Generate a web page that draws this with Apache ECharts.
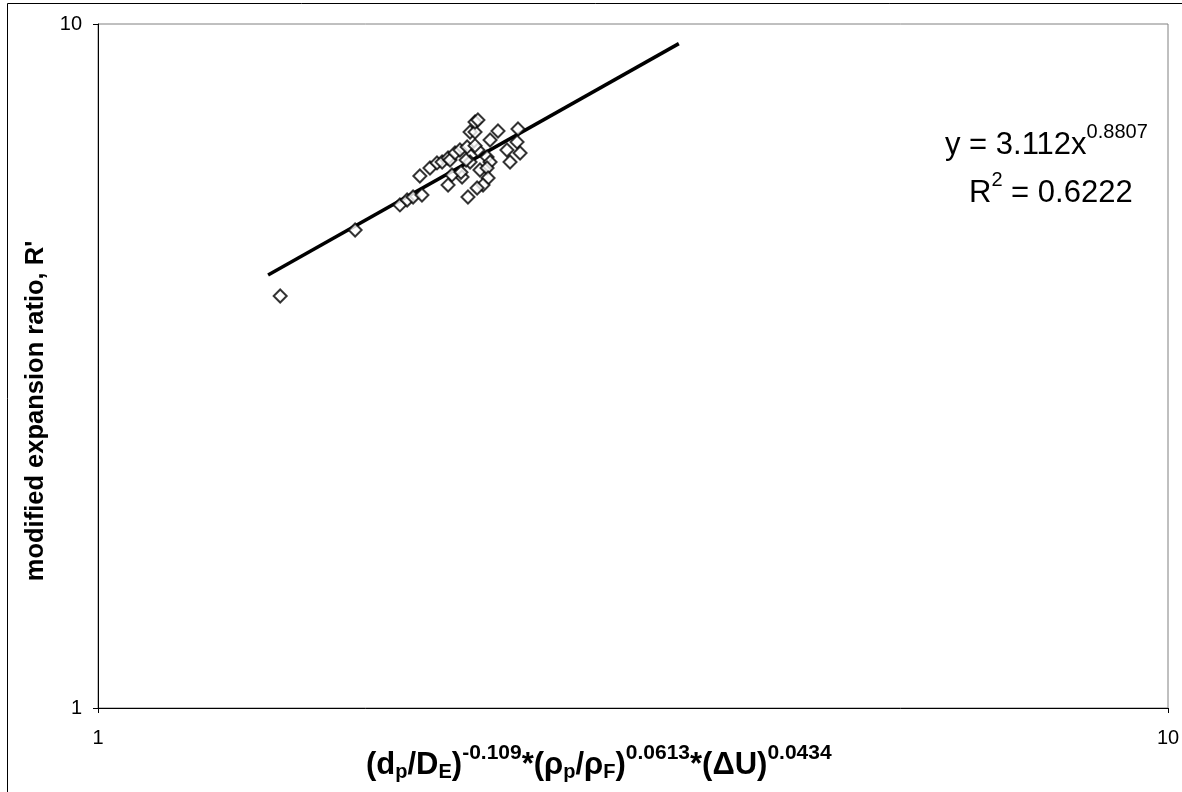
<!DOCTYPE html>
<html>
<head>
<meta charset="utf-8">
<script src="https://cdn.jsdelivr.net/npm/echarts@6/dist/echarts.min.js"></script>
<style>
  html, body { margin: 0; padding: 0; background: #fff; }
  #chart { width: 1182px; height: 792px; }
</style>
</head>
<body>
<div id="chart"></div>
<script>
// measured points: x = modified group, y = modified expansion ratio R'
var xVals = [1.480, 1.739, 1.915, 1.945, 1.970, 2.008, 1.999, 2.043, 2.074, 2.097,
             2.124, 2.133, 2.156, 2.179, 2.213, 2.227, 2.251, 2.251, 2.265, 2.365,
             2.469, 2.325, 2.464, 2.411, 2.480, 2.427, 2.265, 2.310, 2.325, 2.227,
             2.275, 2.310, 2.189, 2.142, 2.124, 2.315, 2.290, 2.261, 2.217, 2.184,
             2.208, 2.251];
var yVals = [4.003, 4.998, 5.438, 5.530, 5.586, 5.623, 5.995, 6.159, 6.264, 6.284,
             6.370, 6.327, 6.478, 6.544, 6.611, 6.952, 6.952, 7.190, 7.238, 6.976,
             7.023, 6.768, 6.723, 6.544, 6.478, 6.284, 6.544, 6.392, 6.284, 6.284,
             6.117, 6.159, 5.975, 6.016, 5.815, 5.955, 5.815, 5.757, 5.586, 6.070,
             6.327, 6.640];

// power trend line end points (y = 3.112x^0.8807)
var trendX = [1.442, 3.49];
var trendY = [4.295, 9.36];

var xTicks = [1, 10];
var yTicks = [1, 10];

var pts = xVals.map(function (x, i) { return [x, yVals[i]]; });
var trend = trendX.map(function (x, i) { return [x, trendY[i]]; });

var font = 'Liberation Sans, Arial, sans-serif';
var myChart = echarts.init(document.getElementById('chart'));

var option = {
    backgroundColor: '#FFF',
    animation: false,
    grid: {
        left: 98, top: 24, right: 14, bottom: 84,
        outerBoundsMode: 'none',
        containLabel: false,
        show: true, borderColor: '#808080', borderWidth: 1
    },
    xAxis: {
        type: 'log', logBase: 10, min: 1, max: 10,
        axisLine: { lineStyle: { color: '#000', width: 1 } },
        axisTick: { show: true, length: 5, inside: false, lineStyle: { color: '#000' } },
        minorTick: { show: false },
        splitLine: { show: false },
        axisLabel: {
            color: '#000', fontFamily: font, fontSize: 20, margin: 20,
            formatter: function (v) { return xTicks.indexOf(Math.round(v)) >= 0 ? String(Math.round(v)) : ''; }
        }
    },
    yAxis: {
        type: 'log', logBase: 10, min: 1, max: 10,
        axisLine: { lineStyle: { color: '#000', width: 1 } },
        axisTick: { show: true, length: 5, lineStyle: { color: '#000' } },
        minorTick: { show: false },
        splitLine: { show: false },
        axisLabel: {
            color: '#000', fontFamily: font, fontSize: 20, margin: 16,
            formatter: function (v) { return yTicks.indexOf(Math.round(v)) >= 0 ? String(Math.round(v)) : ''; }
        }
    },
    graphic: [
        {
            type: 'rect', silent: true,
            shape: { x: 7.5, y: 3.5, width: 1200, height: 800 },
            style: { fill: 'none', stroke: '#000', lineWidth: 1 }
        },
        {
            // x axis title
            type: 'text', left: 366, top: 743,
            style: {
                text: '(d{sub|p}/D{sub|E}){sup|-0.109}*(ρ{sub|p}/ρ{sub|F}){sup|0.0613}*(ΔU){sup|0.0434}',
                fontFamily: font, fontSize: 31, fontWeight: 'bold', fill: '#000', lineHeight: 44,
                rich: {
                    sub: { fontFamily: font, fontSize: 20, fontWeight: 'bold', fill: '#000', verticalAlign: 'bottom', lineHeight: 44, padding: [0, 0, 5, 0] },
                    sup: { fontFamily: font, fontSize: 21, fontWeight: 'bold', fill: '#000', verticalAlign: 'top', lineHeight: 44 }
                }
            }
        },
        {
            // y axis title
            type: 'text', x: 36, y: 411, rotation: Math.PI / 2,
            style: {
                text: "modified expansion ratio, R'",
                fontFamily: font, fontSize: 25.5, fontWeight: 'bold', fill: '#000',
                align: 'center', verticalAlign: 'middle'
            }
        },
        {
            type: 'text', left: 945, top: 122,
            style: {
                text: 'y = 3.112x{sup|0.8807}',
                fontFamily: font, fontSize: 31, fill: '#000', lineHeight: 46,
                rich: { sup: { fontFamily: font, fontSize: 20, fill: '#000', verticalAlign: 'top', lineHeight: 46 } }
            }
        },
        {
            type: 'text', left: 969, top: 170,
            style: {
                text: 'R{sup|2} = 0.6222',
                fontFamily: font, fontSize: 31, fill: '#000', lineHeight: 46,
                rich: { sup: { fontFamily: font, fontSize: 20, fill: '#000', verticalAlign: 'top', lineHeight: 46 } }
            }
        }
    ],
    series: [
        {
            name: 'trend',
            type: 'line',
            data: trend,
            symbol: 'none',
            lineStyle: { color: '#000', width: 3.5 },
            z: 2
        },
        {
            name: 'data',
            type: 'scatter',
            data: pts,
            symbol: 'diamond',
            symbolSize: 13,
            itemStyle: { color: '#fff', borderColor: '#000', borderWidth: 2 },
            z: 3
        }
    ]
};

myChart.setOption(option);
</script>
</body>
</html>
